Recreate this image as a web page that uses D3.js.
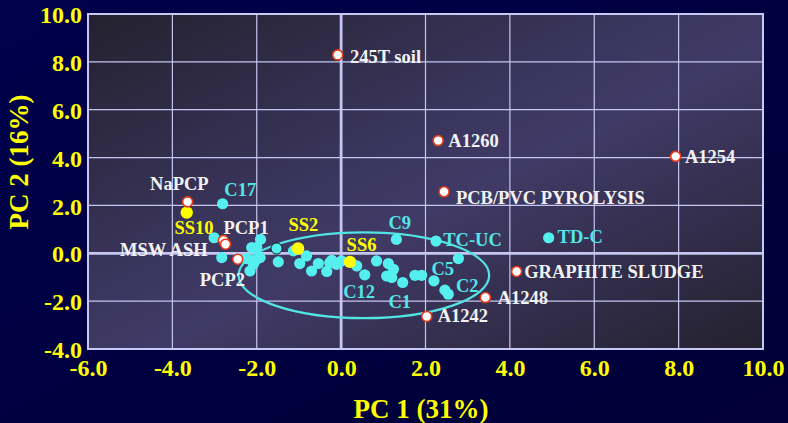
<!DOCTYPE html>
<html>
<head>
<meta charset="utf-8">
<script src="https://cdn.jsdelivr.net/npm/d3@7"></script>
<style>
  html, body { margin: 0; padding: 0; background: #000044; }
  svg { display: block; }
</style>
</head>
<body>
<div id="chart"></div>
<script>
// reference samples (white marker, red ring)
var refNames = ['245T soil', 'A1260', 'PCB/PVC', 'A1254', 'GRAPHITE SLUDGE', 'A1248', 'A1242', 'NaPCP', 'PCP1a', 'PCP1b', 'PCP2'];
var refX = [-0.08, 2.30, 2.44, 7.93, 4.16, 3.42, 2.03, -3.64, -2.79, -2.74, -2.45];
var refY = [8.29, 4.71, 2.57, 4.05, -0.76, -1.85, -2.64, 2.15, 0.54, 0.38, -0.25];

// soil samples (yellow)
var soilNames = ['SS10', 'SS2', 'SS6'];
var soilX = [-3.66, -1.02, 0.21];
var soilY = [1.70, 0.20, -0.36];

// congener / combustion samples (cyan)
var cyanX = [-2.81, 1.31, 2.25, 4.92, -3.01, -2.83, -2.24, -2.08, -2.16, -1.91, -2.00, -2.12, -1.92, -2.04,
  -1.53, -1.49, -1.13, -0.82, -0.98, -0.70, -0.54, -0.34, -0.27, -0.11, 0.01, 0.37, 0.56, 0.84, 1.12,
  1.08, 1.24, 1.20, 1.46, 1.75, 1.91, 2.20, 2.78, 2.46, 2.54, -0.22];
var cyanY = [2.07, 0.58, 0.51, 0.65, 0.65, -0.18, -0.22, -0.46, -0.74, 0.58, 0.24, 0.24, -0.18, -0.32,
  0.20, -0.36, 0.10, -0.11, -0.43, -0.74, -0.43, -0.76, -0.39, -0.46, -0.32, -0.53, -0.90, -0.32, -0.43,
  -0.95, -0.67, -1.01, -1.22, -0.92, -0.92, -1.15, -0.22, -1.54, -1.71, -0.29];

// point labels: text, anchor (data units), colour group
var labelText = ['NaPCP', 'C17', 'SS10', 'PCP1', 'MSW ASH', 'PCP2', 'SS2', 'SS6', 'C12', 'C9', 'TC-UC', 'C1',
  'C5', 'C2', 'A1248', 'A1242', 'GRAPHITE SLUDGE', 'TD-C', 'A1254', 'PCB/PVC PYROLYSIS', '245T soil', 'A1260'];
var labelX = [-4.53, -2.77, -3.95, -2.79, -5.24, -3.35, -1.25, 0.13, 0.05, 1.12, 2.42, 1.12,
  2.14, 2.72, 3.71, 2.29, 4.34, 5.13, 8.15, 2.72, 0.21, 2.54];
var labelY = [2.63, 2.39, 0.79, 0.79, -0.11, -1.36, 0.93, 0.10, -1.85, 1.03, 0.30, -2.29,
  -0.90, -1.60, -2.13, -2.89, -1.04, 0.45, 3.78, 2.08, 7.95, 4.43];
var labelGroup = ['w', 'c', 'y', 'w', 'w', 'w', 'y', 'y', 'c', 'c', 'c', 'c',
  'c', 'c', 'w', 'w', 'w', 'c', 'w', 'w', 'w', 'w'];

// cluster ellipse: centre and radii in data units
var ellipseCenter = [0.54, -0.92];
var ellipseRadius = [2.97, 1.79];

var xTicks = [-6, -4, -2, 0, 2, 4, 6, 8, 10];
var yTicks = [-4, -2, 0, 2, 4, 6, 8, 10];

var W = 788, H = 423;
var serif = '"Liberation Serif", "Times New Roman", serif';
var groupColor = { w: '#f2f2f2', c: '#52e6e6', y: '#ffff00' };
var fmt = function (d) { return d.toFixed(1); }; // plain hyphen for negatives

var svg = d3.select('#chart').append('svg').attr('width', W).attr('height', H);
var defs = svg.append('defs');

var bg = defs.append('linearGradient').attr('id', 'bg')
  .attr('x1', 0).attr('y1', 0).attr('x2', 1).attr('y2', 1);
bg.append('stop').attr('offset', '0%').attr('stop-color', '#00004c');
bg.append('stop').attr('offset', '100%').attr('stop-color', '#000036');

var pg = defs.append('linearGradient').attr('id', 'pg')
  .attr('x1', 0).attr('y1', 0).attr('x2', 1).attr('y2', 1);
pg.append('stop').attr('offset', '0%').attr('stop-color', '#24212f');
pg.append('stop').attr('offset', '45%').attr('stop-color', '#3c3760');
pg.append('stop').attr('offset', '55%').attr('stop-color', '#403a66');
pg.append('stop').attr('offset', '100%').attr('stop-color', '#24212f');

svg.append('rect').attr('width', W).attr('height', H).attr('fill', 'url(#bg)');

var x = d3.scaleLinear().domain([-6, 10]).range([88, 763]);
var y = d3.scaleLinear().domain([-4, 10]).range([349, 14]);

svg.append('rect')
  .attr('x', x(-6)).attr('y', y(10))
  .attr('width', x(10) - x(-6)).attr('height', y(-4) - y(10))
  .attr('fill', 'url(#pg)');

// grid
var grid = svg.append('g');
grid.selectAll('.vg').data(xTicks.filter(function (d) { return d > -6 && d < 10; }))
  .enter().append('line')
  .attr('x1', function (d) { return x(d); }).attr('x2', function (d) { return x(d); })
  .attr('y1', y(10)).attr('y2', y(-4))
  .attr('stroke', '#c6c6f2').attr('stroke-width', function (d) { return d === 0 ? 2.8 : 1.2; });
grid.selectAll('.hg').data(yTicks.filter(function (d) { return d > -4 && d < 10; }))
  .enter().append('line')
  .attr('y1', function (d) { return y(d); }).attr('y2', function (d) { return y(d); })
  .attr('x1', x(-6)).attr('x2', x(10))
  .attr('stroke', '#c6c6f2').attr('stroke-width', function (d) { return d === 0 ? 2.8 : 1.2; });

svg.append('rect')
  .attr('x', x(-6)).attr('y', y(10))
  .attr('width', x(10) - x(-6)).attr('height', y(-4) - y(10))
  .attr('fill', 'none').attr('stroke', '#c8c8f4').attr('stroke-width', 2);

// axes
var xAxis = svg.append('g').attr('transform', 'translate(0,' + y(-4) + ')')
  .call(d3.axisBottom(x).tickValues(xTicks).tickSize(0).tickPadding(10).tickFormat(fmt));
var yAxis = svg.append('g').attr('transform', 'translate(' + x(-6) + ',0)')
  .call(d3.axisLeft(y).tickValues(yTicks).tickSize(0).tickPadding(6).tickFormat(fmt));
[xAxis, yAxis].forEach(function (a) {
  a.select('.domain').remove();
  a.selectAll('text').attr('fill', '#ffff00')
    .style('font-family', serif).style('font-size', '24px').style('font-weight', 'bold');
});
yAxis.selectAll('text').attr('dy', '0.36em');

svg.append('text').attr('x', 421).attr('y', 418).attr('text-anchor', 'middle')
  .attr('fill', '#ffff00').style('font-family', serif).style('font-size', '27px').style('font-weight', 'bold')
  .text('PC 1 (31%)');
svg.append('text').attr('transform', 'translate(28,162) rotate(-90)').attr('text-anchor', 'middle')
  .attr('fill', '#ffff00').style('font-family', serif).style('font-size', '27px').style('font-weight', 'bold')
  .text('PC 2 (16%)');

// ellipse around main cluster
svg.append('ellipse')
  .attr('cx', x(ellipseCenter[0])).attr('cy', y(ellipseCenter[1]))
  .attr('rx', x(ellipseCenter[0] + ellipseRadius[0]) - x(ellipseCenter[0]))
  .attr('ry', y(ellipseCenter[1] - ellipseRadius[1]) - y(ellipseCenter[1]))
  .attr('fill', 'none').attr('stroke', '#52e4e4').attr('stroke-width', 2.2);

// points
svg.append('g').selectAll('circle').data(d3.range(cyanX.length)).enter().append('circle')
  .attr('cx', function (i) { return x(cyanX[i]); })
  .attr('cy', function (i) { return y(cyanY[i]); })
  .attr('r', 5.6)
  .attr('fill', '#55efef')
  .attr('stroke', function (i) { return i === 14 ? '#111' : 'none'; })
  .attr('stroke-width', 1);

svg.append('g').selectAll('circle').data(d3.range(soilX.length)).enter().append('circle')
  .attr('cx', function (i) { return x(soilX[i]); })
  .attr('cy', function (i) { return y(soilY[i]); })
  .attr('r', 6.2)
  .attr('fill', '#ffff00');

svg.append('g').selectAll('circle').data(d3.range(refX.length)).enter().append('circle')
  .attr('cx', function (i) { return x(refX[i]); })
  .attr('cy', function (i) { return y(refY[i]); })
  .attr('r', 5)
  .attr('fill', '#ffffff')
  .attr('stroke', '#e83818').attr('stroke-width', 1.6);

// labels
svg.append('g').selectAll('text').data(d3.range(labelText.length)).enter().append('text')
  .attr('x', function (i) { return x(labelX[i]); })
  .attr('y', function (i) { return y(labelY[i]); })
  .attr('fill', function (i) { return groupColor[labelGroup[i]]; })
  .style('font-family', serif).style('font-size', '18.5px').style('font-weight', 'bold')
  .text(function (i) { return labelText[i]; });
</script>
</body>
</html>
